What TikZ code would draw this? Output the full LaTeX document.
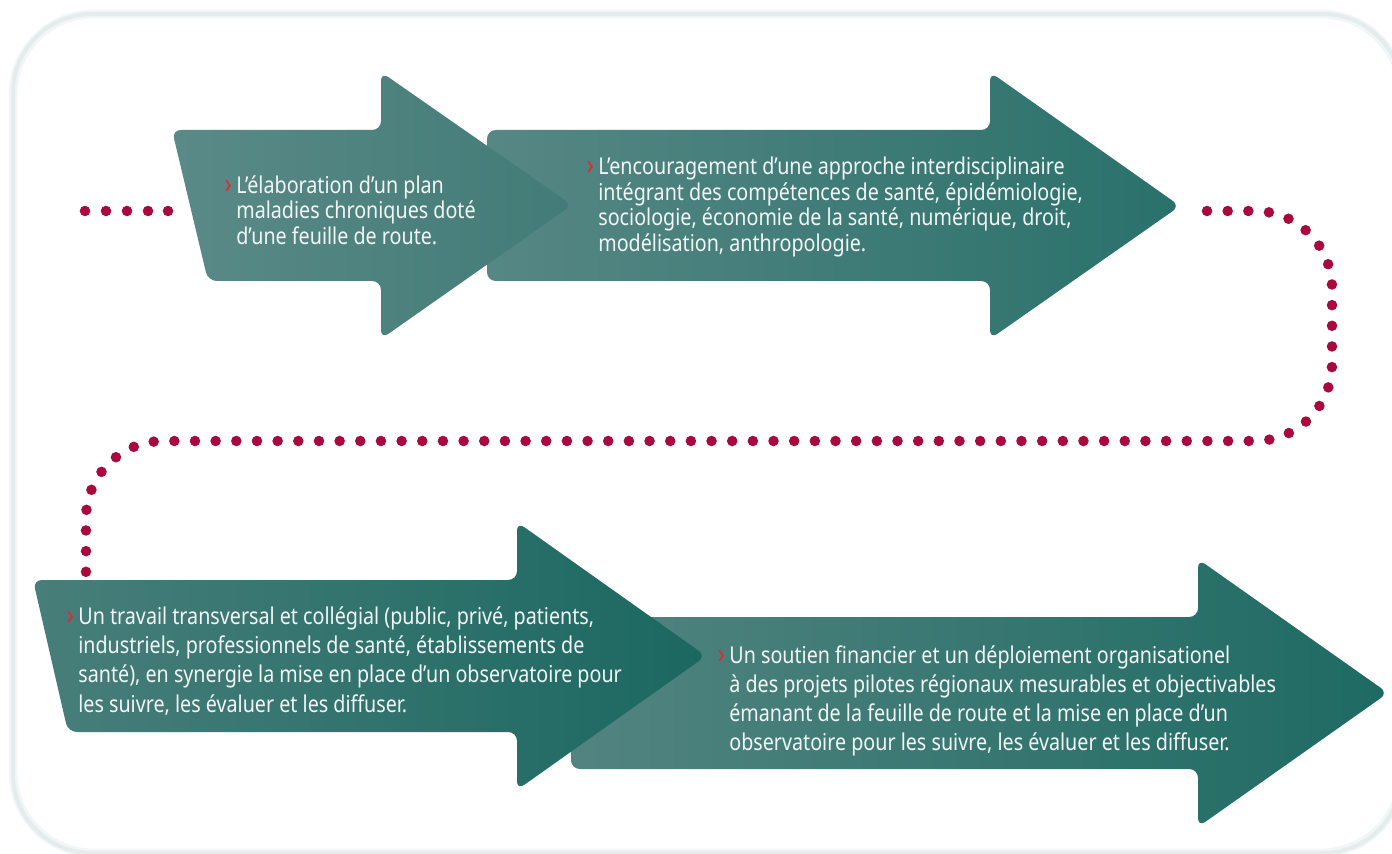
\documentclass[tikz,border=0pt]{standalone}
\usepackage{fontspec}
\setmainfont[FakeStretch=0.85]{Noto Sans}

\definecolor{dotred}{RGB}{168,10,62}
\definecolor{markred}{RGB}{228,40,45}
\definecolor{framegray}{RGB}{228,236,236}
\definecolor{textwhite}{RGB}{242,246,246}
\definecolor{tealAleft}{RGB}{90,138,135}
\definecolor{tealAright}{RGB}{66,123,119}
\definecolor{tealBleft}{RGB}{86,135,132}
\definecolor{tealBright}{RGB}{42,113,107}
\definecolor{tealCleft}{RGB}{72,126,122}
\definecolor{tealCright}{RGB}{27,104,97}
\definecolor{tealDleft}{RGB}{82,132,128}
\definecolor{tealDright}{RGB}{30,106,99}

\tikzset{
  arrowbody/.style={rounded corners=5pt},
  dotline/.style={dotred, line width=6pt, line cap=round, dash pattern=on 0pt off 11.76pt},
  steptext/.style={text=textwhite, anchor=west, align=left, inner sep=0pt,
    font=\fontsize{13.2}{#1}\selectfont},
  steptext/.default=14.6,
}
\newcommand{\chevmark}{\llap{\textcolor{markred}{\fontsize{16}{14}\selectfont\textbf{›}}\hspace{2.5pt}}}

\begin{document}
\begin{tikzpicture}[x=0.02cm, y=-0.02cm]
    \useasboundingbox (0,0) rectangle (1392,854);
    \clip (0,0) rectangle (1392,854);

    % frame
    \draw[framegray!45, line width=5pt, rounded corners=46pt] (13,14) rectangle (1402,853);
    \draw[framegray, line width=2.3pt, rounded corners=45pt] (13,14) rectangle (1402,853);

    % top row
    \shade[arrowbody, left color=tealBleft, right color=tealBright]
        (487,130) -- (990,130) -- (990,72) -- (1180,206) -- (990,339) -- (990,281) -- (487,281) -- cycle;
    \shade[arrowbody, left color=tealAleft, right color=tealAright]
        (172,130) -- (381,130) -- (381,72) -- (572,205) -- (381,339) -- (381,281) -- (208,281) -- cycle;

    % bottom row
    \shade[arrowbody, left color=tealDleft, right color=tealDright]
        (571,617) -- (1198,617) -- (1198,559) -- (1388,693) -- (1198,827) -- (1198,769) -- (571,769) -- cycle;
    \shade[arrowbody, left color=tealCleft, right color=tealCright]
        (33,580) -- (517,580) -- (517,522) -- (706,656) -- (517,790) -- (517,732) -- (68,732) -- cycle;

    % dotted track
    \foreach \x in {85,106,127,148,168}
        \fill[dotred] (\x,211) circle (3pt);
    \coordinate (loopstart) at (1207,211);
    \coordinate (loopend) at (86,574);
    \draw[dotline, rounded corners=44pt] (loopstart) -- (1332,211) -- (1332,441) -- (86,441) -- (loopend);

    \node[steptext] (elaboration) at (236,210)
        {\chevmark L’élaboration d’un plan\\maladies chroniques doté\\d’une feuille de route.};
    \node[steptext] (approche) at (598,207)
        {\chevmark L’encouragement d’une approche interdisciplinaire\\intégrant des compétences de santé, épidémiologie,\\sociologie, économie de la santé, numérique, droit,\\modélisation, anthropologie.};
    \node[steptext=16.6] (travail) at (78,661)
        {\chevmark Un travail transversal et collégial (public, privé, patients,\\industriels, professionnels de santé, établissements de\\santé), en synergie la mise en place d’un observatoire pour\\les suivre, les évaluer et les diffuser.};
    \node[steptext=16.6] (soutien) at (729,701)
        {\chevmark Un soutien financier et un déploiement organisationel\\à des projets pilotes régionaux mesurables et objectivables\\émanant de la feuille de route et la mise en place d’un\\observatoire pour les suivre, les évaluer et les diffuser.};
\end{tikzpicture}
\end{document}
